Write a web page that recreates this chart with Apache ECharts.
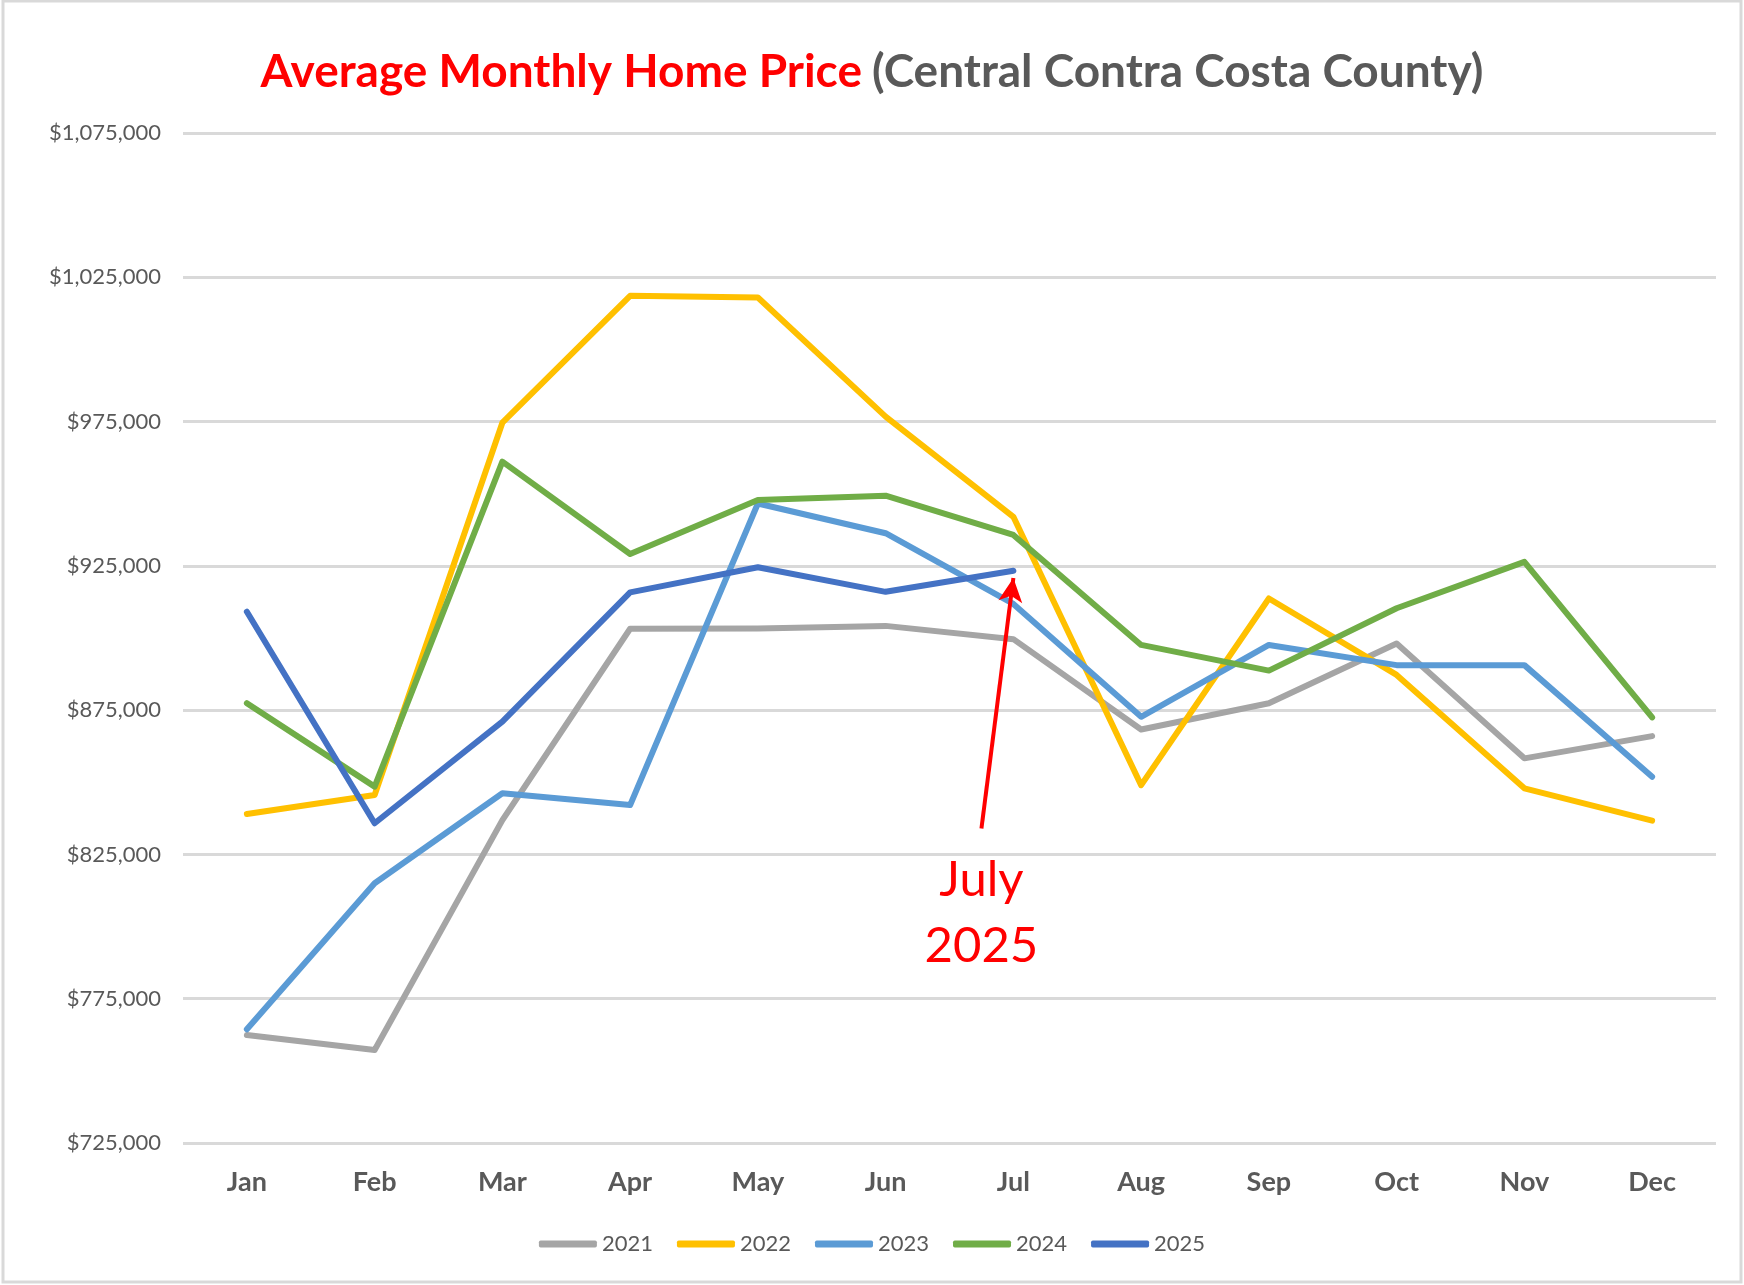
<!DOCTYPE html>
<html>
<head>
<meta charset="utf-8">
<title>Average Monthly Home Price</title>
<script src="https://cdn.jsdelivr.net/npm/echarts@6/dist/echarts.min.js"></script>
<style>
  html, body { margin: 0; padding: 0; background: #fff; }
  #main { width: 1744px; height: 1285px; }
</style>
</head>
<body>
<div id="main"></div>
<script>
const months = ['Jan', 'Feb', 'Mar', 'Apr', 'May', 'Jun', 'Jul', 'Aug', 'Sep', 'Oct', 'Nov', 'Dec'];
const yTicks = [725000, 775000, 825000, 875000, 925000, 975000, 1025000, 1075000];

const y2021 = [762400, 757200, 836900, 903200, 903300, 904200, 899600, 868300, 877400, 898100, 858300, 866000];
const y2022 = [839000, 845600, 974600, 1018600, 1018000, 976700, 942000, 849000, 913700, 887200, 847900, 836700];
const y2023 = [764400, 815000, 846200, 842100, 946600, 936300, 911800, 872700, 897600, 890600, 890600, 851900];
const y2024 = [877400, 848500, 961100, 929100, 947800, 949300, 935700, 897600, 888700, 910300, 926400, 872500];
const y2025 = [909100, 835800, 871000, 915800, 924500, 916000, 923300];

const years = ['2021', '2022', '2023', '2024', '2025'];
const colors = ['#A5A5A5', '#FFC000', '#5B9BD5', '#70AD47', '#4472C4'];

// arrow for the "July 2025" note
const noteMonth = 'Jul';
const noteTip = 920800;
const noteTail = 834000;

const chartDom = document.getElementById('main');
const chart = echarts.init(chartDom);
const font = 'Lato, "Open Sans", sans-serif';

const series = [y2021, y2022, y2023, y2024, y2025].map((vals, i) => {
    return {
        id: 's' + years[i],
        name: years[i],
        type: 'line',
        data: vals,
        showSymbol: false,
        symbol: 'none',
        lineStyle: { width: 6, color: colors[i], cap: 'round', join: 'round' },
        itemStyle: { color: colors[i] },
        z: 2 + i
    };
});

const border = {
    type: 'rect',
    shape: { x: 3, y: 1, width: 1738, height: 1281 },
    style: { fill: 'none', stroke: '#D9D9D9', lineWidth: 3 },
    silent: true
};

const option = {
    animation: false,
    backgroundColor: '#fff',
    title: {
        text: '{a|Average Monthly Home Price}{s| }{b|(Central Contra Costa County)}',
        left: 'center',
        top: 44,
        textStyle: {
            rich: {
                a: { color: '#FF0000', fontSize: 46, fontWeight: 'bold', fontFamily: font },
                s: { width: 10, fontSize: 46 },
                b: { color: '#595959', fontSize: 46, fontWeight: 'bold', fontFamily: font }
            }
        }
    },
    legend: {
        data: years,
        left: 'center',
        top: 1228,
        itemWidth: 58,
        itemHeight: 7,
        itemGap: 24,
        icon: 'roundRect',
        textStyle: { color: '#595959', fontSize: 22, fontFamily: font }
    },
    grid: { left: 183, right: 28, top: 133, bottom: 142, containLabel: false },
    xAxis: {
        type: 'category',
        data: months,
        boundaryGap: true,
        axisLine: { show: false },
        axisTick: { show: false },
        axisLabel: { color: '#595959', fontSize: 27, fontWeight: 'bold', fontFamily: font, margin: 26 }
    },
    yAxis: {
        type: 'value',
        min: 725000,
        max: 1075000,
        axisLine: { show: false },
        axisTick: { show: false, customValues: yTicks },
        axisLabel: {
            customValues: yTicks,
            color: '#595959',
            fontSize: 22,
            fontFamily: font,
            margin: 22,
            formatter: v => '$' + v.toLocaleString('en-US')
        },
        splitLine: { show: true, lineStyle: { color: '#D9D9D9', width: 3 } }
    },
    graphic: [border],
    series: series
};

chart.setOption(option);

// place the note from the chart's own scales
const julX = chart.convertToPixel({ xAxisIndex: 0 }, noteMonth);
const junX = chart.convertToPixel({ xAxisIndex: 0 }, months[months.indexOf(noteMonth) - 1]);
const tailX = julX + (junX - julX) * 0.25;
const tailY = chart.convertToPixel({ yAxisIndex: 0 }, noteTail);

chart.setOption({
    series: [{
        id: 's2025',
        markLine: {
            silent: true,
            symbol: ['none', 'arrow'],
            symbolSize: [18, 24],
            label: { show: false },
            lineStyle: { color: '#FF0000', width: 4, type: 'solid' },
            data: [[{ x: tailX, y: tailY }, { coord: [noteMonth, noteTip] }]]
        }
    }],
    graphic: [border, {
        type: 'text',
        x: tailX,
        y: tailY + 19,
        silent: true,
        style: {
            text: 'July\n2025',
            fill: '#FF0000',
            fontSize: 49,
            lineHeight: 66,
            fontFamily: font,
            textAlign: 'center',
            textVerticalAlign: 'top'
        }
    }]
});
</script>
</body>
</html>
